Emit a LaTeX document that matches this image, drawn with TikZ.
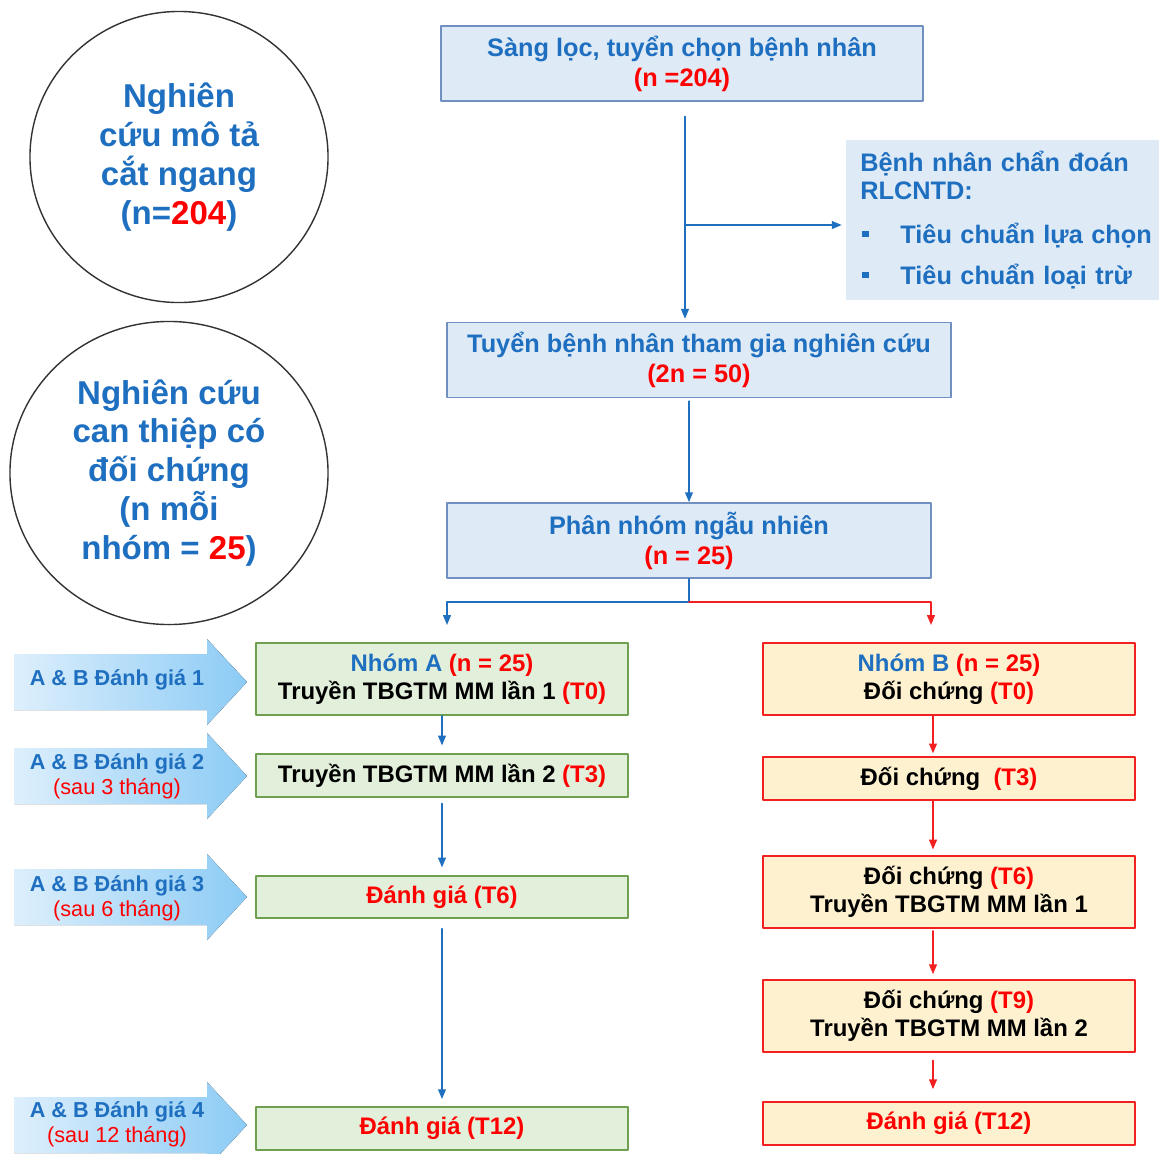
\documentclass[tikz,border=0pt]{standalone}
\usepackage{fontspec}
\setmainfont{Liberation Sans}
\usetikzlibrary{arrows.meta,shapes.geometric}
\definecolor{txtblue}{HTML}{1F6FC0}
\definecolor{txtred}{HTML}{FF0000}
\definecolor{boxblue}{HTML}{DEEAF6}
\definecolor{lineblue}{HTML}{6F90C0}
\definecolor{boxgreen}{HTML}{E2EFDA}
\definecolor{linegreen}{HTML}{6FA04F}
\definecolor{boxyellow}{HTML}{FDF1CF}
\definecolor{linered}{HTML}{F22020}
\definecolor{arrowlight}{HTML}{DDEFFC}
\definecolor{arrowdark}{HTML}{8CCBF5}
\newcommand{\rd}[1]{\textcolor{txtred}{#1}}
\newcommand{\bl}[1]{\textcolor{txtblue}{#1}}
\begin{document}
\begin{tikzpicture}[x=0.025cm,y=-0.025cm,line cap=round,line join=round,
  flowbox/.style={draw=lineblue,fill=boxblue,line width=1.2pt,minimum height=1.875cm,inner sep=2pt,
    align=center,text=txtblue,font=\fontsize{18}{21.3}\selectfont\bfseries},
  groupa/.style={draw=linegreen,fill=boxgreen,line width=1.2pt,minimum width=9.3cm,inner sep=2pt,
    align=center,font=\fontsize{17}{20}\selectfont\bfseries},
  groupb/.style={draw=linered,fill=boxyellow,line width=1.2pt,minimum width=9.3cm,inner sep=2pt,
    align=center,font=\fontsize{17}{20}\selectfont\bfseries},
  study/.style={draw=black!80,ellipse,line width=1pt,inner sep=0pt,align=center,text=txtblue,
    font=\fontsize{23.5}{27.7}\selectfont\bfseries},
  evtext/.style={align=center,text=txtblue,font=\fontsize{15.4}{17.8}\selectfont\bfseries},
  barrow/.style={draw=txtblue,line width=1.2pt,-{Triangle[length=7pt,width=5.5pt]}},
  rarrow/.style={draw=linered,line width=1.2pt,-{Triangle[length=7pt,width=5.5pt]}}]
  \useasboundingbox (0,0) rectangle (1159,1153);

  % two study types
  \node[study,minimum width=7.45cm,minimum height=7.275cm] (desc) at (179,157)
    {Nghiên\\cứu mô tả\\cắt ngang\\(n=\rd{204})};
  \node[study,minimum width=7.95cm,minimum height=7.575cm] (interv) at (169,473)
    {Nghiên cứu\\can thiệp có\\đối chứng\\(n mỗi\\nhóm = \rd{25})};

  % evaluation arrows
  \foreach \yc in {682,776,897,1125}
    \fill[left color=arrowlight,right color=arrowdark] (14,\yc-28) -- (207,\yc-28) -- (207,\yc-43)
      -- (247,\yc) -- (207,\yc+43) -- (207,\yc+28) -- (14,\yc+28) -- cycle;
  \node[evtext] (ev1) at (117,680) {A \& B Đánh giá 1};
  \node[evtext] (ev2) at (117,776) {A \& B Đánh giá 2\\{\mdseries\color{txtred}(sau 3 tháng)}};
  \node[evtext] (ev3) at (117,898) {A \& B Đánh giá 3\\{\mdseries\color{txtred}(sau 6 tháng)}};
  \node[evtext] (ev4) at (117,1124) {A \& B Đánh giá 4\\{\mdseries\color{txtred}(sau 12 tháng)}};

  % main flow
  \node[flowbox,minimum width=12.05cm] (screen) at (682,63.5)
    {Sàng lọc, tuyển chọn bệnh nhân\\\rd{(n =204)}};
  \node[fill=boxblue,anchor=west,minimum height=4cm,inner xsep=10pt,text width=7.4cm,align=left,
    text=txtblue,font=\fontsize{18}{20}\selectfont\bfseries] (crit) at (846,220)
    {Bệnh nhân chẩn đoán\\RLCNTD:\\[11pt]
     \makebox[28.5pt][l]{\hspace{1.5pt}\rule[0.25em]{4.3pt}{4.3pt}}Tiêu chuẩn lựa chọn\\[9.5pt]
     \makebox[28.5pt][l]{\hspace{1.5pt}\rule[0.25em]{4.3pt}{4.3pt}}Tiêu chuẩn loại trừ};
  \node[flowbox,minimum width=12.6cm] (recruit) at (699,360)
    {Tuyển bệnh nhân tham gia nghiên cứu\\\rd{(2n = 50)}};
  \node[flowbox,minimum width=12.1cm] (random) at (689,540.5)
    {Phân nhóm ngẫu nhiên\\\rd{(n = 25)}};

  % group A
  \node[groupa,minimum height=1.8cm] (grpA) at (442,679)
    {\bl{Nhóm A} \rd{(n = 25)}\\Truyền TBGTM MM lần 1 \rd{(T0)}};
  \node[groupa,minimum height=1.075cm] (a3m) at (442,775.5) {Truyền TBGTM MM lần 2 \rd{(T3)}};
  \node[groupa,minimum height=1.05cm] (a6m) at (442,897) {\rd{Đánh giá (T6)}};
  \node[groupa,minimum height=1.075cm] (a12m) at (442,1128.5) {\rd{Đánh giá (T12)}};

  % group B
  \node[groupb,minimum height=1.8cm] (grpB) at (949,679)
    {\bl{Nhóm B} \rd{(n = 25)}\\Đối chứng \rd{(T0)}};
  \node[groupb,minimum height=1.075cm] (b3m) at (949,778.5) {Đối chứng\ \ \rd{(T3)}};
  \node[groupb,minimum height=1.8cm] (b6m) at (949,892)
    {Đối chứng \rd{(T6)}\\Truyền TBGTM MM lần 1};
  \node[groupb,minimum height=1.8cm] (b9m) at (949,1016)
    {Đối chứng \rd{(T9)}\\Truyền TBGTM MM lần 2};
  \node[groupb,minimum height=1.075cm] (b12m) at (949,1123.5) {\rd{Đánh giá (T12)}};

  % connectors
  \coordinate (fork) at (685,225);
  \coordinate (lineB) at (933,0);
  \draw[barrow,shorten <=10.5pt,shorten >=2pt] (screen.south -| fork) -- (recruit.north -| fork);
  \draw[barrow,shorten >=3pt] (fork) -- (crit.west |- fork);
  \draw[barrow,shorten <=2pt] (random.north |- recruit.south) -- (random.north);
  \coordinate (split) at (689,602);
  \coordinate (toA) at (447,625);
  \coordinate (toB) at (931,625);
  \draw[draw=txtblue,line width=1.2pt] (random.south) -- (split);
  \draw[barrow] (split) -| (toA);
  \draw[rarrow] (split) -| (toB);
  \foreach \s/\t/\a/\b in {grpA/a3m/0/5.5,a3m/a6m/4/5.5,a6m/a12m/7/5}
    \draw[barrow,shorten <=\a pt,shorten >=\b pt] (\s.south) -- (\t.north);
  \foreach \s/\t/\a/\b in {grpB/b3m/0/2,b3m/b6m/0/4,b6m/b9m/1.5/3.5,b9m/b12m/5.5/8.5}
    \draw[rarrow,shorten <=\a pt,shorten >=\b pt] (\s.south -| lineB) -- (\t.north -| lineB);
\end{tikzpicture}
\end{document}
